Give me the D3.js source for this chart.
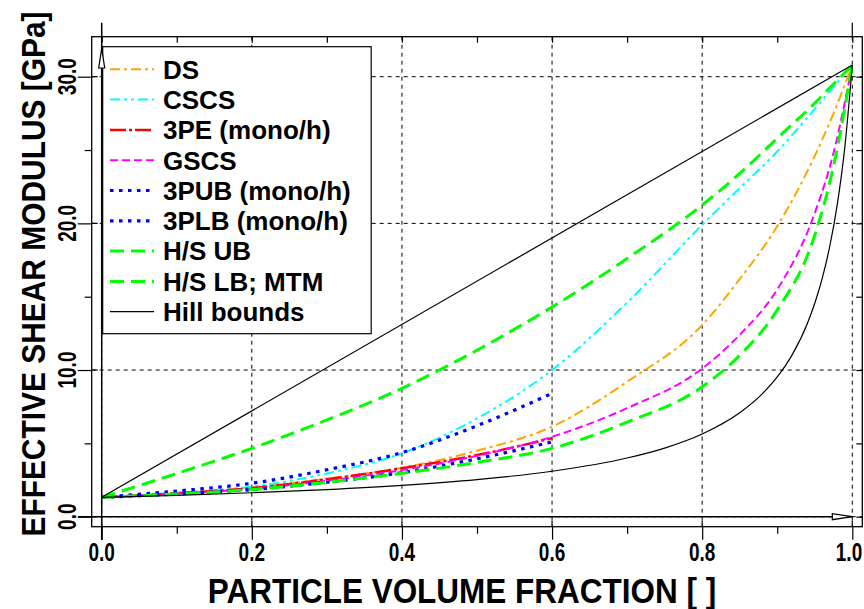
<!DOCTYPE html>
<html><head><meta charset="utf-8">
<script src="https://cdn.jsdelivr.net/npm/d3@7/dist/d3.min.js"></script>
<style>body{margin:0;background:#fff}svg{display:block}text{font-family:"Liberation Sans",Arial,sans-serif;font-weight:bold;fill:#000}</style>
</head><body>
<svg id="c" width="864" height="609"></svg>
<script>
// ---- data ----
const xTicks = [0, 0.2, 0.4, 0.6, 0.8, 1.0];
const xMinor = [0.1, 0.3, 0.5, 0.7, 0.9];
const yTicks = [0, 10, 20, 30];
const yMinor = [5, 15, 25];

const fFull = [0, 0.1, 0.2, 0.3, 0.4, 0.5, 0.6, 0.7, 0.8, 0.85, 0.9, 0.95, 0.975, 1.0];
const fHalf = [0, 0.1, 0.2, 0.3, 0.4, 0.5, 0.6];
const fHillLow = [0, 0.1, 0.2, 0.3, 0.4, 0.5, 0.6, 0.7, 0.75, 0.8, 0.85, 0.88, 0.9, 0.92, 0.94, 0.95, 0.96, 0.97, 0.98, 0.99, 1.0];
const fHillUp = [0, 1.0];

const dsVals    = [1.32, 1.60, 2.00, 2.60, 3.34, 4.50, 6.14, 9.20, 13.07, 16.2, 19.8, 24.6, 27.5, 30.8];
const cscsVals  = [1.32, 1.62, 2.05, 2.95, 4.32, 6.70, 10.0, 14.6, 19.9, 22.4, 24.9, 27.8, 29.3, 30.8];
const pe3Vals   = [1.32, 1.60, 1.95, 2.55, 3.30, 4.20, 5.35];
const gscsVals  = [1.32, 1.58, 1.90, 2.45, 3.18, 4.15, 5.45, 7.40, 10.1, 12.4, 15.5, 20.7, 24.8, 30.8];
const pub3Vals  = [1.32, 1.75, 2.28, 3.20, 4.37, 6.20, 8.41];
const plb3Vals  = [1.32, 1.55, 1.85, 2.35, 3.00, 3.95, 5.10];
const hsubVals  = [1.32, 2.95, 4.66, 6.60, 8.75, 11.35, 14.3, 17.6, 21.25, 23.4, 25.8, 28.2, 29.5, 30.8];
const hslbVals  = [1.32, 1.55, 1.85, 2.35, 2.96, 3.70, 4.66, 6.45, 8.86, 11.0, 14.1, 19.2, 23.9, 30.8];
const hillUpVals  = [1.32, 30.8];
const hillLowVals = [1.32, 1.46, 1.633, 1.852, 2.139, 2.532, 3.101, 4.0, 4.678, 5.634, 7.081, 8.37, 9.526, 11.05, 13.16, 14.55, 16.27, 18.44, 21.29, 25.18, 30.8];

const seriesNames = ["DS", "CSCS", "3PE (mono/h)", "GSCS", "3PUB (mono/h)", "3PLB (mono/h)", "H/S UB", "H/S LB; MTM", "Hill bounds"];

// ---- styles ----
const styles = [
  {color:"#FFA500", w:2,   dash:"10,4,3,4"},
  {color:"#00FFFF", w:2,   dash:"10,4,3,4,3,4"},
  {color:"#FF0000", w:2.5, dash:"16,3,3,3"},
  {color:"#FF00FF", w:2,   dash:"8,4"},
  {color:"#0000FF", w:3.2, dash:"3.5,5.5"},
  {color:"#0000FF", w:3.2, dash:"3.5,5.5"},
  {color:"#00FF00", w:3,   dash:"14,7"},
  {color:"#00FF00", w:3,   dash:"14,7"},
  {color:"#000000", w:1.2, dash:null}
];

const series = [
  {f:fFull, v:dsVals, s:0},
  {f:fFull, v:cscsVals, s:1},
  {f:fHalf, v:pe3Vals, s:2},
  {f:fFull, v:gscsVals, s:3},
  {f:fHalf, v:pub3Vals, s:4},
  {f:fHalf, v:plb3Vals, s:5},
  {f:fFull, v:hsubVals, s:6},
  {f:fFull, v:hslbVals, s:7},
  {f:fHillUp, v:hillUpVals, s:8},
  {f:fHillLow, v:hillLowVals, s:8}
];

const svg = d3.select("#c");
const fx0 = 91.7, fx1 = 862.3, fy0 = 36.7, fy1 = 526.7;
const x = d3.scaleLinear().domain([0, 1]).range([101.7, 852.3]);
const y = d3.scaleLinear().domain([0, 30]).range([516.7, 76.7]);
const fmt = d3.format(".1f");

// grid
const grid = svg.append("g").attr("stroke", "#000").attr("stroke-width", 1).attr("stroke-dasharray", "4,4");
xTicks.forEach(t => grid.append("line").attr("x1", x(t)).attr("x2", x(t)).attr("y1", fy0).attr("y2", fy1));
yTicks.forEach(t => grid.append("line").attr("y1", y(t)).attr("y2", y(t)).attr("x1", fx0).attr("x2", fx1));

// frame
svg.append("rect").attr("x", fx0).attr("y", fy0).attr("width", fx1 - fx0).attr("height", fy1 - fy0)
  .attr("fill", "none").attr("stroke", "#000").attr("stroke-width", 1.3);

// axes ticks
function styleAxis(g){ g.select(".domain").remove(); g.selectAll("line").attr("stroke","#000").attr("stroke-width",1.2); }
svg.append("g").attr("transform", `translate(0,${fy1})`)
  .call(d3.axisBottom(x).tickValues(xTicks).tickSize(13).tickFormat("")).call(styleAxis);
svg.append("g").attr("transform", `translate(0,${fy1})`)
  .call(d3.axisBottom(x).tickValues(xMinor).tickSize(7).tickFormat("")).call(styleAxis);
svg.append("g").attr("transform", `translate(${fx0},0)`)
  .call(d3.axisLeft(y).tickValues(yTicks).tickSize(14).tickFormat("")).call(styleAxis);
svg.append("g").attr("transform", `translate(${fx0},0)`)
  .call(d3.axisLeft(y).tickValues(yMinor).tickSize(7).tickFormat("")).call(styleAxis);
// inner ticks on right and top
svg.append("g").attr("transform", `translate(${fx1},0)`)
  .call(d3.axisLeft(y).tickValues(yTicks.concat(yMinor)).tickSize(6).tickFormat("")).call(styleAxis);
svg.append("g").attr("transform", `translate(0,${fy0})`)
  .call(d3.axisBottom(x).tickValues(xTicks.concat(xMinor)).tickSize(6).tickFormat("")).call(styleAxis);
// crossing parts of left/bottom major ticks
const tk = svg.append("g").attr("stroke", "#000").attr("stroke-width", 1.2);
yTicks.forEach(t => tk.append("line").attr("x1", fx0).attr("x2", fx0 + 6).attr("y1", y(t)).attr("y2", y(t)));
xTicks.forEach(t => tk.append("line").attr("y1", fy1).attr("y2", fy1 - 6).attr("x1", x(t)).attr("x2", x(t)));
tk.append("line").attr("x1", x(1)).attr("x2", x(1)).attr("y1", fy0 - 14).attr("y2", fy0);

// tick labels (condensed bold)
svg.append("g").selectAll("text").data(xTicks).join("text")
  .attr("transform", d => `translate(${Math.min(x(d), 849)},561) scale(0.76,1)`)
  .attr("text-anchor", "middle").attr("font-size", 25).text(d => fmt(d));
svg.append("g").selectAll("text").data(yTicks).join("text")
  .attr("transform", d => `translate(76,${y(d)}) rotate(-90) scale(0.76,1)`)
  .attr("text-anchor", "middle").attr("font-size", 25).text(d => fmt(d));

// curves
const line = d3.line().x(d => x(d[0])).y(d => y(d[1])).curve(d3.curveMonotoneX);
const cg = svg.append("g").attr("fill", "none");
series.forEach(sr => {
  const st = styles[sr.s];
  const pts = sr.f.map((f, i) => [f, sr.v[i]]);
  const p = cg.append("path").attr("d", line(pts)).attr("stroke", st.color).attr("stroke-width", st.w);
  if (st.dash) p.attr("stroke-dasharray", st.dash);
});

// axis lines with arrows
const ax = svg.append("g").attr("stroke", "#000").attr("stroke-width", 1.5).attr("fill", "none");
ax.append("line").attr("x1", x(0)).attr("x2", x(0)).attr("y1", fy0 - 14).attr("y2", 540);
ax.append("line").attr("x1", 78).attr("x2", x(1)).attr("y1", y(0)).attr("y2", y(0));

// legend
const lg = svg.append("g");
lg.append("rect").attr("x", 102.7).attr("y", 46.7).attr("width", 268.5).attr("height", 287)
  .attr("fill", "#fff").attr("stroke", "#000").attr("stroke-width", 1.2);
seriesNames.forEach((nm, i) => {
  const cy = 69.3 + i * 30.3;
  const st = styles[i];
  const l = lg.append("line").attr("x1", 110).attr("x2", 154).attr("y1", cy).attr("y2", cy)
    .attr("stroke", st.color).attr("stroke-width", st.w);
  if (st.dash) l.attr("stroke-dasharray", st.dash);
  lg.append("text").attr("x", 163).attr("y", cy).attr("dy", "0.36em").attr("font-size", 26).text(nm);
});

// arrowheads (open triangles)
const ah = svg.append("g").attr("stroke", "#000").attr("stroke-width", 1.2).attr("fill", "#fff");
ah.append("path").attr("d", `M${x(0)},48.3 L${x(0)-3},68 L${x(0)+3},68 Z`);
ah.append("path").attr("d", `M${x(1)},${y(0)} L${x(1)-20},${y(0)-3} L${x(1)-20},${y(0)+3} Z`);

// titles
svg.append("text").attr("transform", "translate(462,603) scale(0.9,1)").attr("text-anchor", "middle").attr("font-size", 35)
  .text("PARTICLE VOLUME FRACTION [ ]");
svg.append("text").attr("transform", "translate(45,274) rotate(-90) scale(0.88,1)").attr("text-anchor", "middle").attr("font-size", 34)
  .text("EFFECTIVE SHEAR MODULUS [GPa]");
</script>
</body></html>
